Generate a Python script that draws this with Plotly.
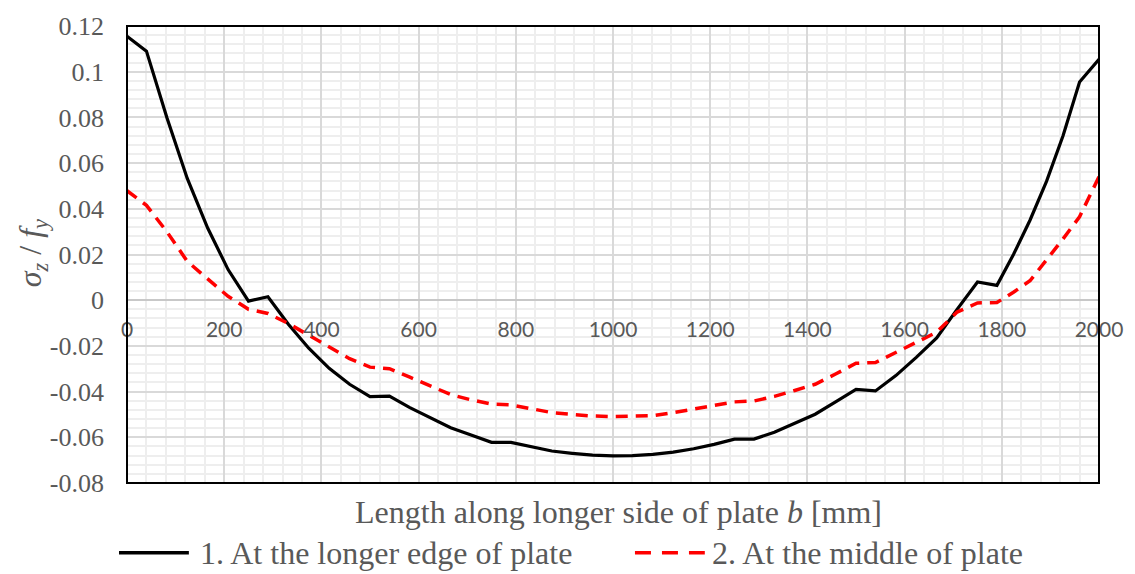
import plotly.graph_objects as go

# ---- data ----
x_mm = [0, 40, 82, 124, 166, 208, 250, 290, 332, 374, 416, 458, 500, 540, 582, 624, 666, 708, 750,
        790, 832, 874, 916, 958, 1000, 1040, 1082, 1124, 1166, 1208, 1250, 1290, 1332, 1374, 1416,
        1458, 1500, 1540, 1582, 1624, 1666, 1708, 1750, 1790, 1824, 1858, 1892, 1926, 1960, 2000]

edge = [0.1155, 0.109, 0.080, 0.0533, 0.0316, 0.0134, -0.0004, 0.0015, -0.0105, -0.021, -0.0298,
        -0.0368, -0.0422, -0.0420, -0.047, -0.0515, -0.0558, -0.059, -0.0622, -0.0622, -0.064,
        -0.066, -0.0670, -0.0678, -0.0681, -0.0680, -0.0675, -0.0665, -0.0650, -0.0631, -0.0608,
        -0.0608, -0.0578, -0.054, -0.0499, -0.0445, -0.039, -0.0397, -0.033, -0.025, -0.0165,
        -0.004, 0.008, 0.0065, 0.020, 0.035, 0.052, 0.072, 0.0955, 0.1054]

middle = [0.0479, 0.0415, 0.030, 0.017, 0.0093, 0.0017, -0.0040, -0.0058, -0.0102, -0.0153, -0.0207,
          -0.0256, -0.0293, -0.0300, -0.0337, -0.0374, -0.0413, -0.0436, -0.0455, -0.0458, -0.0476,
          -0.0492, -0.0500, -0.0507, -0.0509, -0.0508, -0.0505, -0.0492, -0.0476, -0.0461, -0.0445,
          -0.0441, -0.0421, -0.0395, -0.0368, -0.0323, -0.0276, -0.0273, -0.0228, -0.0185, -0.0140,
          -0.0052, -0.0012, -0.0010, 0.0035, 0.0085, 0.0175, 0.0268, 0.0365, 0.054]

series_names = ["1. At the longer edge of plate", "2. At the middle of plate"]
x_ticks = [0, 200, 400, 600, 800, 1000, 1200, 1400, 1600, 1800, 2000]
x_ticktext = [str(v) for v in x_ticks]
y_ticks = [0.12, 0.1, 0.08, 0.06, 0.04, 0.02, 0, -0.02, -0.04, -0.06, -0.08]
y_ticktext = ["0.12", "0.1", "0.08", "0.06", "0.04", "0.02", "0", "-0.02", "-0.04", "-0.06", "-0.08"]
x_title = "Length along longer side of plate <i>b</i> [mm]"
y_title = "<i>σ<sub>z</sub></i> / <i>f<sub>y</sub></i>"

GREY = "#595959"
SERIF = "Liberation Serif, Times New Roman, serif"

fig = go.Figure()
fig.add_trace(go.Scatter(x=x_mm, y=edge, mode="lines", name=series_names[0],
                         line=dict(color="black", width=3.2), showlegend=False))
fig.add_trace(go.Scatter(x=x_mm, y=middle, mode="lines", name=series_names[1],
                         line=dict(color="#ff0000", width=3.5, dash="12px,8px"), showlegend=False))

W, H = 1135, 574
L, R, T, B = 127, 34, 24, 91
pw, ph = W - L - R, H - T - B


def px_x(p):
    return (p - L) / pw


def px_y(p):
    return (H - B - p) / ph


fig.update_layout(
    width=W, height=H,
    margin=dict(l=L, r=R, t=T, b=B),
    paper_bgcolor="white", plot_bgcolor="white",
    showlegend=False,
    xaxis=dict(
        range=[0, 2000], tickvals=x_ticks, ticktext=x_ticktext,
        showgrid=True, gridcolor="#d9d9d9", gridwidth=1.5,
        minor=dict(dtick=40, showgrid=True, gridcolor="#eeeeee", gridwidth=1.5),
        zeroline=False, showline=False, ticks="",
        anchor="free", position=0.4,
        tickfont=dict(family="Lato, Carlito, sans-serif", size=21, color=GREY),
        ticklabelstandoff=15,
    ),
    yaxis=dict(
        range=[-0.08, 0.12], tickvals=y_ticks, ticktext=y_ticktext,
        showgrid=True, gridcolor="#d9d9d9", gridwidth=1.5,
        minor=dict(dtick=0.004, showgrid=True, gridcolor="#eeeeee", gridwidth=1.5),
        zeroline=True, zerolinecolor="#c8c8c8", zerolinewidth=1.5,
        showline=False, ticks="",
        tickfont=dict(family=SERIF, size=26, color=GREY),
        ticklabelstandoff=22,
    ),
    shapes=[
        dict(type="rect", xref="paper", yref="paper", x0=0, x1=1, y0=0, y1=1,
             line=dict(color="black", width=2), layer="above"),
        dict(type="line", xref="paper", yref="paper", x0=px_x(119), x1=px_x(189),
             y0=px_y(553), y1=px_y(553), line=dict(color="black", width=3.5)),
        dict(type="line", xref="paper", yref="paper", x0=px_x(636), x1=px_x(706),
             y0=px_y(553), y1=px_y(553), line=dict(color="#ff0000", width=3.5, dash="16px,11px")),
    ],
    annotations=[
        dict(text=x_title, xref="paper", yref="paper", x=px_x(620), y=px_y(512),
             xanchor="center", yanchor="middle", showarrow=False,
             font=dict(family=SERIF, size=32, color=GREY)),
        dict(text=y_title, xref="paper", yref="paper", x=px_x(32), y=px_y(252),
             xanchor="center", yanchor="middle", showarrow=False, textangle=-90,
             font=dict(family=SERIF, size=32, color=GREY)),
        dict(text=series_names[0], xref="paper", yref="paper", x=px_x(198), y=px_y(553),
             xanchor="left", yanchor="middle", showarrow=False,
             font=dict(family=SERIF, size=32, color=GREY)),
        dict(text=series_names[1], xref="paper", yref="paper", x=px_x(711), y=px_y(553),
             xanchor="left", yanchor="middle", showarrow=False,
             font=dict(family=SERIF, size=32, color=GREY)),
    ],
)

fig.write_html("out.html")
